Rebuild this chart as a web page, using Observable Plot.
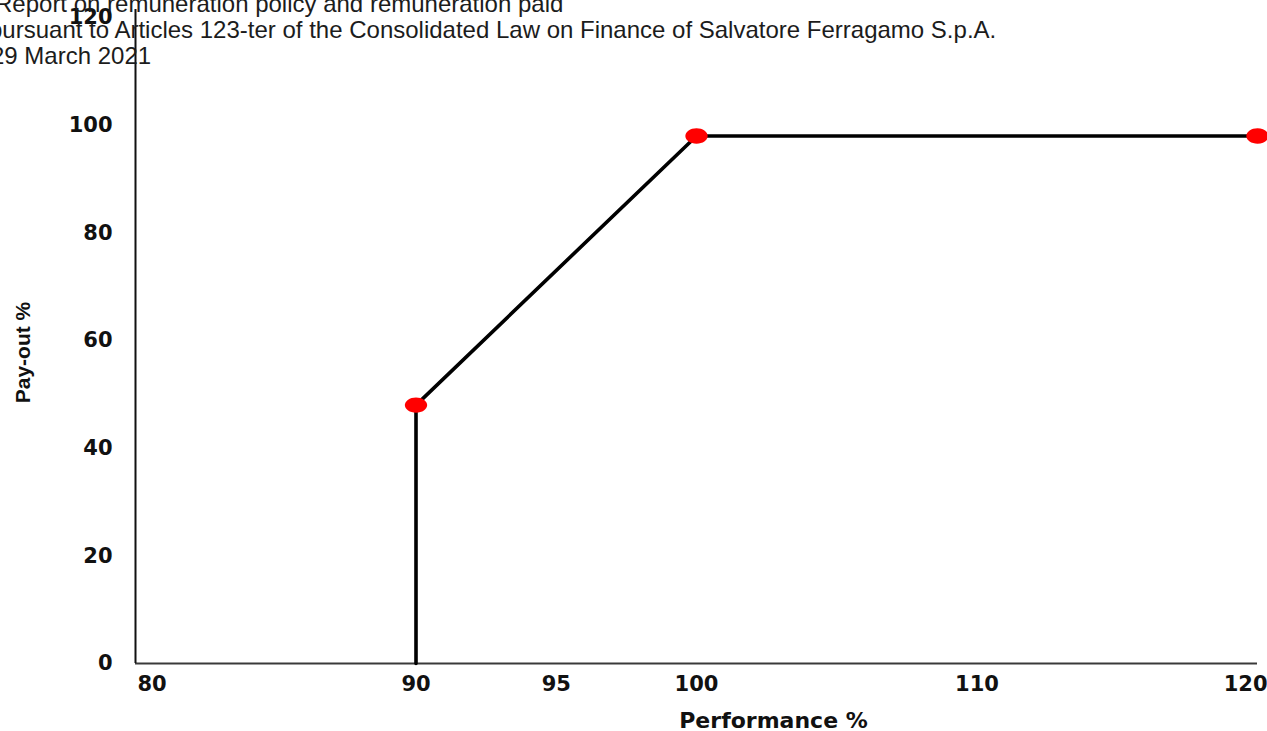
<!DOCTYPE html>
<html>
<head>
<meta charset="utf-8">
<script src="https://cdn.jsdelivr.net/npm/d3@7"></script>
<script src="https://cdn.jsdelivr.net/npm/@observablehq/plot@0.6"></script>
<style>
  html, body { margin: 0; padding: 0; background: #fff; }
  #wrap { position: relative; width: 1267px; height: 731px; overflow: hidden; }
  #header { position: absolute; top: -9px; left: 0; z-index: 2; font-family: "Liberation Sans", Arial, sans-serif; font-size: 24px; line-height: 26px; color: #1c1c1c; white-space: nowrap; pointer-events: none; }
  #header div { position: relative; }
  #chart { position: absolute; top: 0; left: 0; }
</style>
</head>
<body>
<div id="wrap">
  <div id="chart"></div>
  <div id="header"></div>
</div>
<script>
// ---- data ----
const headerLines = [
  "Report on remuneration policy and remuneration paid",
  "pursuant to Articles 123-ter of the Consolidated Law on Finance of Salvatore Ferragamo S.p.A.",
  "29 March 2021"
];
const headerShift = [-5, -11, -9];
const performance = [90, 90, 100, 120];
const payout = [0, 48, 98, 98];
const markerPerformance = [90, 100, 120];
const markerPayout = [48, 98, 98];
const xTicksMiddle = [90, 95, 100, 110];
const xTickFirst = [80];
const xTickLast = [120];
const yTicks = [0, 20, 40, 60, 80, 100, 120];
const xLabel = "Performance %";
const yLabel = "Pay-out %";

// header
const header = document.getElementById("header");
headerLines.forEach((t, i) => {
  const d = document.createElement("div");
  d.textContent = t;
  d.style.left = headerShift[i] + "px";
  header.appendChild(d);
});

const lineData = performance.map((p, i) => ({performance: p, payout: payout[i]}));
const markers = markerPerformance.map((p, i) => ({performance: p, payout: markerPayout[i]}));

const ellipse = {
  draw(ctx, size) {
    const r = Math.sqrt(size / Math.PI);
    const rx = r * 1.45, ry = r, k = 0.5523;
    ctx.moveTo(rx, 0);
    ctx.bezierCurveTo(rx, k * ry, k * rx, ry, 0, ry);
    ctx.bezierCurveTo(-k * rx, ry, -rx, k * ry, -rx, 0);
    ctx.bezierCurveTo(-rx, -k * ry, -k * rx, -ry, 0, -ry);
    ctx.bezierCurveTo(k * rx, -ry, rx, -k * ry, rx, 0);
    ctx.closePath();
  }
};

const tickStyle = {tickSize: 0, tickPadding: 13, label: null};

const chart = Plot.plot({
  width: 1267,
  height: 731,
  marginLeft: 135,
  marginRight: 10,
  marginTop: 17,
  marginBottom: 68,
  style: {fontFamily: "DejaVu Sans", fontWeight: "bold", fontSize: "21px", color: "#111", background: "transparent", overflow: "visible"},
  x: {domain: [80, 120]},
  y: {domain: [0, 120]},
  marks: [
    Plot.axisX({...tickStyle, ticks: xTicksMiddle}),
    Plot.axisX({...tickStyle, ticks: xTickFirst, textAnchor: "start", dx: 2}),
    Plot.axisX({...tickStyle, ticks: xTickLast, textAnchor: "end", dx: 10}),
    Plot.axisY({ticks: yTicks, tickSize: 0, tickPadding: 23, label: null}),
    Plot.ruleY([0], {x1: 80, x2: 120, stroke: "#3a3a3a", strokeWidth: 2}),
    Plot.ruleX([80], {y1: 0, y2: 121.5, stroke: "#111", strokeWidth: 2}),
    Plot.line(lineData, {x: "performance", y: "payout", stroke: "#000", strokeWidth: 3.6, strokeLinejoin: "round"}),
    Plot.dot(markers, {x: "performance", y: "payout", r: 7.7, symbol: ellipse, fill: "#ff0000", stroke: "none"}),
    Plot.text([xLabel], {text: d => d, frameAnchor: "bottom", textAnchor: "middle", dx: 77, dy: 57, lineAnchor: "middle", fontSize: 22, fontWeight: "bold", fill: "#111"}),
    Plot.text([yLabel], {text: d => d, frameAnchor: "left", textAnchor: "middle", dx: -112, dy: 12, rotate: -90, lineAnchor: "middle", fontFamily: "Liberation Sans", fontSize: 21, fontWeight: "bold", fill: "#111"})
  ]
});
document.getElementById("chart").appendChild(chart);
</script>
</body>
</html>
